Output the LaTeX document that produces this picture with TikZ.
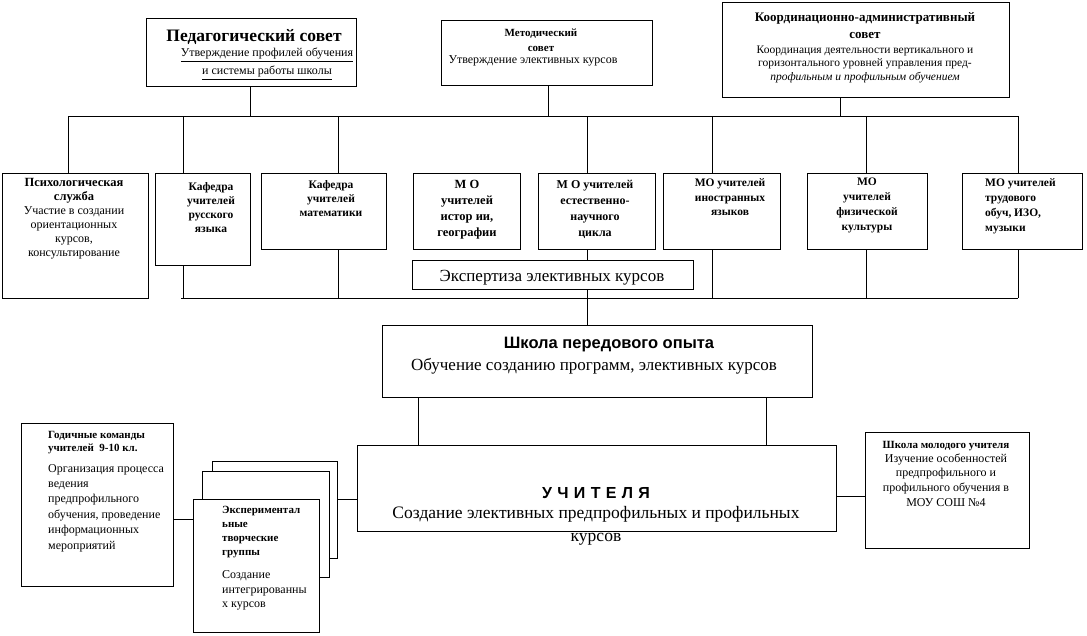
\documentclass[tikz,border=0pt]{standalone}
\usepackage{fontspec}
\setmainfont{Liberation Serif}
\newfontfamily\arialf{Liberation Sans}
\tikzset{
  box/.style={draw, line width=1pt, fill=white, inner sep=0pt, outer sep=0pt, anchor=north west},
  ln/.style={line width=1pt},
  ml/.style={align=center, anchor=north, inner sep=0pt, execute at begin node=\strut},
  mll/.style={align=left, anchor=north west, inner sep=0pt, execute at begin node=\strut},
  sl/.style={anchor=base, inner sep=0pt},
}
\newcommand\fs[2]{\fontsize{#1}{#2}\selectfont}
\newcommand\bx[5]{\node[box, minimum width={#4-#2}, minimum height={#5-#3}] (#1) at (#2,#3) {};}
\begin{document}
\begin{tikzpicture}[x=1pt,y=-1pt]
\useasboundingbox (0,0) rectangle (1087,635);
% boxes
\bx{ped}{146}{18}{356}{86}
\bx{met}{441}{20}{652}{85}
\bx{coord}{722}{2}{1009}{97}
\bx{psych}{2}{173}{148}{298}
\bx{rus}{155}{173}{250}{265}
\bx{math}{261}{173}{386}{249}
\bx{hist}{413}{173}{520}{249}
\bx{est}{538}{173}{655}{249}
\bx{forn}{663}{173}{780}{249}
\bx{phys}{807}{173}{927}{249}
\bx{labor}{962}{173}{1082}{249}
\bx{exp}{412}{260}{693}{289}
\bx{school}{382}{325}{812}{397}
\bx{teach}{357}{445}{836}{531}
\bx{young}{865}{432}{1029}{548}
\bx{god}{21}{423}{173}{586}
\bx{back}{212}{461}{337}{558}
\bx{mid}{202}{471}{329}{577}
\bx{front}{193}{499}{319}{632}
% texts
\node[sl, font=\fs{17.5}{18}\bfseries] (tped) at (254,41) {Педагогический совет};
\node[ml, font=\fs{12}{18}] (tped2) at (267,48) {\underline{Утверждение профилей обучения}\\\underline{и системы работы школы}};
\node[ml, font=\fs{11}{15}\bfseries] (tmet) at (541,28.5) {Методический\\совет};
\node[sl, font=\fs{12}{14}] (tmet2) at (533,63) {Утверждение элективных курсов};
\node[ml, font=\fs{13}{17}\bfseries] (tcoord) at (865,12) {Координационно-административный\\совет};
\node[ml, font=\fs{11.5}{13.5}] (tcoord2) at (865,45.5) {Координация деятельности вертикального и\\горизонтального уровней управления пред-\\\textit{профильным и профильным обучением}};
\node[ml, font=\fs{12}{14}] (tpsych) at (74,178.5) {\textbf{\fs{12.5}{14}Психологическая}\\\textbf{\fs{12.5}{14}служба}\\Участие в создании\\ориентационных\\курсов,\\консультирование};
\node[ml, font=\fs{11.5}{14}\bfseries] (trus) at (211,182.5) {Кафедра\\учителей\\русского\\языка};
\node[ml, font=\fs{11.5}{14}\bfseries] (tmath) at (331,180.5) {Кафедра\\учителей\\математики};
\node[ml, font=\fs{12.5}{16}\bfseries] (thist) at (467,180) {М О\\учителей\\истор ии,\\географии};
\node[ml, font=\fs{12}{16}\bfseries] (test) at (595,180) {М О учителей\\естественно-\\научного\\цикла};
\node[ml, font=\fs{11.5}{14.5}\bfseries] (tforn) at (730,178.5) {МО учителей\\иностранных\\языков};
\node[ml, font=\fs{11.5}{15}\bfseries] (tphys) at (867,178) {МО\\учителей\\физической\\культуры};
\node[mll, font=\fs{11.5}{15}\bfseries] (tlabor) at (985,178) {МО учителей\\трудового\\обуч, ИЗО,\\музыки};
\node[sl, font=\fs{17}{20}] (texp) at (552,281) {Экспертиза элективных курсов};
\node[sl, font=\arialf\fs{16.5}{18}\bfseries] (tschool) at (609,348) {Школа передового опыта};
\node[sl, font=\fs{17}{20}] (tschool2) at (594,370.5) {Обучение созданию программ, элективных курсов};
\node[sl, font=\arialf\fs{16}{18}\bfseries] (tteach) at (596,498) {У\,\,Ч\,\,И\,\,Т\,\,Е\,\,Л\,\,Я};
\node[ml, font=\fs{17.5}{23}] (tteach2) at (596,506) {Создание элективных предпрофильных и профильных\\курсов};
\node[sl, font=\fs{11}{13}\bfseries] (tyoung) at (946,448) {Школа молодого учителя};
\node[ml, font=\fs{12}{14.7}] (tyoung2) at (946,453.5) {Изучение особенностей\\предпрофильного и\\профильного обучения в\\МОУ СОШ №4};
\node[mll, font=\fs{11}{13}\bfseries] (tgod) at (48,431.5) {Годичные команды\\учителей~ 9-10 кл.};
\node[mll, font=\fs{12}{15.4}] (tgod2) at (48,464) {Организация процесса\\ведения\\предпрофильного\\обучения, проведение\\информационных\\мероприятий};
\node[mll, font=\fs{11}{14}\bfseries] (tfront) at (222,506) {Экспериментал\\ьные\\творческие\\группы};
\node[mll, font=\fs{12}{14.5}] (tfront2) at (222,570.5) {Создание\\интегрированны\\х курсов};
% buses
\coordinate (busL) at (68,116);
\coordinate (busR) at (1018,116);
\coordinate (bus2L) at (181,298);
\coordinate (bus2R) at (1018,298);
\draw[ln] (busL) -- (busR);
\draw[ln] (bus2L) -- (bus2R);
% stubs from top boxes
\draw[ln] (ped.south -| 250,0) -- (busL -| 250,0);
\draw[ln] (met.south -| 548,0) -- (busL -| 548,0);
\draw[ln] (coord.south -| 840,0) -- (busL -| 840,0);
% drops to row
\draw[ln] (busL) -- (psych.north -| busL);
\draw[ln] (busL -| 183,0) -- (rus.north -| 183,0);
\draw[ln] (busL -| 338,0) -- (math.north -| 338,0);
\draw[ln] (busL -| 587,0) -- (est.north -| 587,0);
\draw[ln] (busL -| 712,0) -- (forn.north -| 712,0);
\draw[ln] (busL -| 866,0) -- (phys.north -| 866,0);
\draw[ln] (busR) -- (labor.north -| busR);
% row to lower bus
\draw[ln] (rus.south -| 183,0) -- (bus2L -| 183,0);
\draw[ln] (math.south -| 338,0) -- (bus2L -| 338,0);
\draw[ln] (est.south -| 587,0) -- (exp.north -| 587,0);
\draw[ln] (exp.south -| 587,0) -- (school.north -| 587,0);
\draw[ln] (forn.south -| 712,0) -- (bus2L -| 712,0);
\draw[ln] (phys.south -| 866,0) -- (bus2L -| 866,0);
\draw[ln] (labor.south -| bus2R) -- (bus2R);
% school to teachers
\draw[ln] (school.south -| 418,0) -- (teach.north -| 418,0);
\draw[ln] (school.south -| 766,0) -- (teach.north -| 766,0);
% side links
\draw[ln] (teach.east |- 0,496) -- (young.west |- 0,496);
\draw[ln] (god.east |- 0,519) -- (front.west |- 0,519);
\draw[ln] (back.east |- 0,499) -- (teach.west |- 0,499);
\end{tikzpicture}
\end{document}
